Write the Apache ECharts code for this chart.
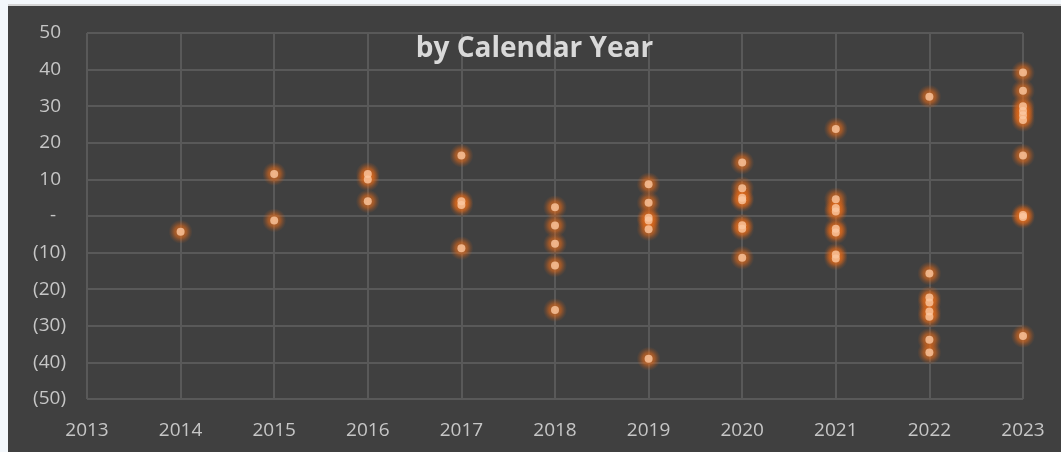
<!DOCTYPE html>
<html>
<head>
<meta charset="utf-8">
<script src="https://cdn.jsdelivr.net/npm/echarts@6/dist/echarts.min.js"></script>
<style>
  html, body { margin: 0; padding: 0; width: 1061px; height: 452px; background: #f3f7fb; overflow: hidden; }
  #frame { position: absolute; left: 8px; top: 4px; width: 1053px; height: 448px; border-top: 2px solid #d4d4d4; box-sizing: border-box; background: #404040; }
  #chart { position: absolute; left: 0; top: 0; width: 1053px; height: 446px; }
</style>
</head>
<body>
<div id="frame"><div id="chart"></div></div>
<script>
// Year on the x axis, one list of observed values per year
const years = [2014, 2015, 2016, 2017, 2018, 2019, 2020, 2021, 2022, 2023];
const values2014 = [-4.3];
const values2015 = [11.5, -1.2];
const values2016 = [11.5, 10, 4];
const values2017 = [16.5, 4, 3, -8.8];
const values2018 = [2.4, -2.6, -7.6, -13.5, -25.7];
const values2019 = [8.7, 3.6, -0.5, -1.2, -3.6, -39];
const values2020 = [14.6, 7.6, 5, 4.3, -2.5, -3.5, -11.4];
const values2021 = [23.8, 4.6, 2.2, 1.2, -3.5, -4.5, -10.5, -11.6];
const values2022 = [32.6, -15.7, -22.3, -23.6, -26.1, -27.5, -33.8, -37.3];
const values2023 = [39.2, 34.2, 30, 28.7, 27.5, 26.2, 16.5, 0.3, -0.3, -32.8];
const valuesByYear = [values2014, values2015, values2016, values2017, values2018,
                      values2019, values2020, values2021, values2022, values2023];

const xMin = 2013, xMax = 2023;
const yMin = -50, yMax = 50, yStep = 10;
const titleText = 'by Calendar Year';

const points = [];
years.forEach((yr, i) => valuesByYear[i].forEach(v => points.push([yr, v])));

// Accounting-style tick labels: negatives in parentheses, zero as a dash
function accounting(v) {
  if (v === 0) return '-  ';
  if (v < 0) return '(' + Math.abs(v) + ')';
  return v + ' ';
}

const gridColor = '#595959';
const labelColor = '#c6c6c6';
const fontFamily = '"Open Sans", sans-serif';

const glow = new echarts.graphic.RadialGradient(0.5, 0.5, 0.5, [
  { offset: 0, color: 'rgba(236,116,32,1)' },
  { offset: 0.5, color: 'rgba(226,106,26,0.72)' },
  { offset: 0.8, color: 'rgba(210,95,22,0.25)' },
  { offset: 1, color: 'rgba(200,90,20,0)' }
]);

const chart = echarts.init(document.getElementById('chart'), null, { renderer: 'canvas' });
chart.setOption({
  backgroundColor: '#404040',
  animation: false,
  grid: { left: 79, right: 38, top: 27, bottom: 53 },
  xAxis: {
    type: 'value', min: xMin, max: xMax, interval: 1,
    axisLine: { show: false }, axisTick: { show: false },
    splitLine: { show: true, lineStyle: { color: gridColor, width: 2 } },
    axisLabel: { color: labelColor, fontSize: 19, fontFamily, margin: 22, formatter: v => String(v) }
  },
  yAxis: {
    type: 'value', min: yMin, max: yMax, interval: yStep,
    axisLine: { show: false }, axisTick: { show: false },
    splitLine: { show: true, lineStyle: { color: gridColor, width: 2 } },
    axisLabel: { color: labelColor, fontSize: 19, fontFamily, margin: 21, formatter: accounting }
  },
  graphic: [{
    type: 'text', left: 'center', top: 29,
    style: { text: titleText, fill: '#d9d9d9', font: 'bold 28px "Open Sans", sans-serif' },
    z: 100, x: 12
  }],
  series: [
    {
      // soft orange glow behind each point
      type: 'scatter',
      data: points,
      symbol: 'circle',
      symbolSize: 24,
      silent: true,
      itemStyle: { color: glow },
      z: 2
    },
    {
      type: 'scatter',
      data: points,
      symbol: 'circle',
      symbolSize: 8,
      itemStyle: { color: '#fbc7a0' },
      z: 3
    }
  ]
});
</script>
</body>
</html>
